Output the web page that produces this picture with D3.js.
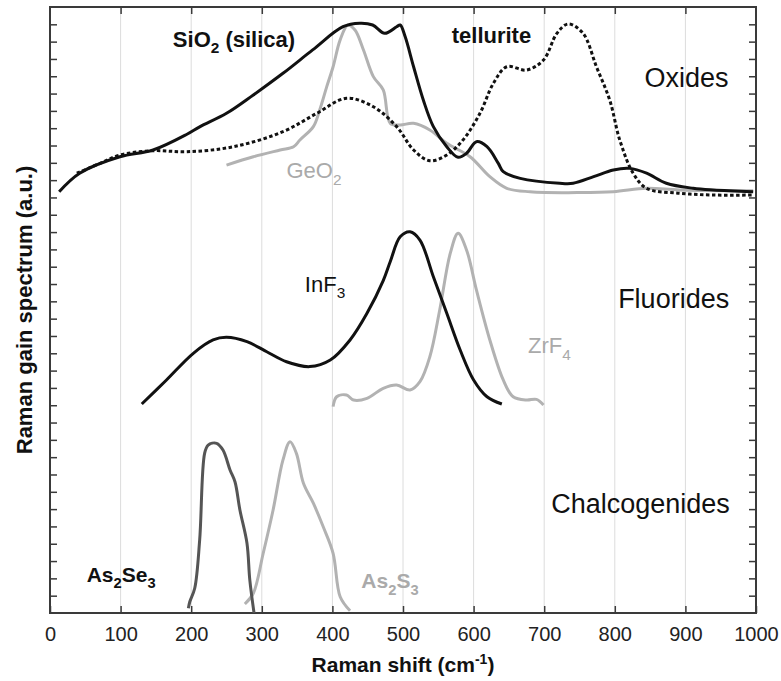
<!DOCTYPE html>
<html>
<head>
<meta charset="utf-8">
<script src="https://cdn.jsdelivr.net/npm/d3@7"></script>
<style>
  html, body { margin: 0; padding: 0; background: #fff; }
  svg { display: block; font-family: "Liberation Sans", Arial, sans-serif; }
</style>
</head>
<body>
<div id="plot"></div>
<script>
// Spectra: [Raman shift (cm^-1), gain (a.u., stacked offset)]
const sio2 = [
  [13, 24.33], [42, 25.4], [99, 26.35], [146, 26.74], [194, 27.65], [212, 28.08],
  [250, 28.86], [288, 29.92], [330, 31.17], [372, 32.52], [415, 33.86], [439, 34.06],
  [457, 33.96], [474, 33.48], [491, 33.86], [496, 33.96], [503, 33.29], [515, 31.55],
  [529, 29.6], [543, 28.09], [562, 26.93], [578, 26.32], [590, 26.55], [604, 27.22],
  [619, 26.93], [635, 25.97], [642, 25.49], [666, 25.1], [722, 24.82], [741, 24.82],
  [770, 25.2], [798, 25.59], [821, 25.68], [845, 25.4], [873, 24.82], [911, 24.53],
  [940, 24.43], [996, 24.33]
];
const tellurite = [
  [38, 25.4], [71, 25.97], [99, 26.45], [146, 26.7], [194, 26.64], [260, 26.93],
  [330, 27.8], [378, 28.86], [420, 29.73], [458, 29.24], [491, 28.09], [515, 26.74],
  [538, 26.12], [562, 26.45], [585, 27.32], [609, 28.86], [628, 30.59], [647, 31.55],
  [675, 31.36], [699, 31.94], [718, 33.48], [734, 34.02], [755, 33.48], [774, 31.55],
  [793, 29.6], [807, 27.32], [826, 25.4], [845, 24.53], [892, 24.24], [940, 24.14],
  [996, 24.14]
];
const geo2 = [
  [250, 25.87], [288, 26.35], [326, 26.74], [345, 26.93], [354, 27.32], [373, 28.09],
  [382, 29.05], [392, 30.4], [401, 31.55], [411, 33.1], [422, 33.96], [432, 33.67],
  [444, 32.52], [458, 30.98], [472, 30.21], [482, 28.28], [496, 28.19], [515, 28.28],
  [538, 27.9], [562, 27.13], [595, 26.35], [623, 25.2], [647, 24.53], [680, 24.33],
  [751, 24.28], [798, 24.33], [845, 24.53], [892, 24.43], [996, 24.39]
];
const inf3 = [
  [130, 12.07], [165, 13.46], [203, 15.0], [231, 15.77], [250, 15.92], [279, 15.67],
  [307, 15.09], [335, 14.51], [368, 14.23], [397, 14.61], [425, 15.77], [449, 17.31],
  [472, 19.2], [482, 20.3], [496, 21.73], [510, 22.02], [524, 21.54], [543, 19.42],
  [562, 17.31], [581, 15.19], [600, 13.46], [619, 12.49], [640, 12.07]
];
const zrf4 = [
  [401, 11.92], [406, 12.49], [420, 12.59], [430, 12.3], [449, 12.4], [472, 12.98],
  [491, 13.17], [510, 12.88], [524, 13.36], [538, 14.8], [552, 17.5], [567, 20.78],
  [578, 21.93], [590, 20.97], [604, 18.66], [623, 15.77], [642, 13.46], [656, 12.49],
  [675, 12.3], [689, 12.34], [699, 12.01]
];
const as2se3 = [
  [196, 0.27], [198, 0.65], [205, 1.43], [212, 4.22], [219, 9.22], [224, 9.7],
  [236, 9.8], [245, 9.41], [255, 8.26], [262, 7.58], [269, 5.95], [279, 4.03],
  [283, 1.91], [289, 0]
];
const as2s3 = [
  [276, 0.52], [288, 1.14], [302, 3.45], [316, 5.95], [330, 8.84], [340, 9.89],
  [349, 9.22], [359, 7.49], [373, 6.34], [387, 4.98], [401, 3.45], [411, 0.94],
  [425, 0.13]
];

const xTicks = [0, 100, 200, 300, 400, 500, 600, 700, 800, 900, 1000];

// Annotations in data coordinates
const labels = [
  { x: 174, y: 32.71, parts: [["SiO"], ["2", 1], [" (silica)"]], bold: true, color: "#111", size: 22 },
  { x: 569, y: 32.9, parts: [["tellurite"]], bold: true, color: "#111", size: 22 },
  { x: 335, y: 25.12, parts: [["GeO"], ["2", 1]], color: "#aaa", size: 22 },
  { x: 361, y: 18.56, parts: [["InF"], ["3", 1]], color: "#111", size: 22 },
  { x: 677, y: 15.0, parts: [["ZrF"], ["4", 1]], color: "#aaa", size: 22 },
  { x: 52, y: 1.81, parts: [["As"], ["2", 1], ["Se"], ["3", 1]], bold: true, color: "#111", size: 21 },
  { x: 441, y: 1.43, parts: [["As"], ["2", 1], ["S"], ["3", 1]], bold: true, color: "#aaa", size: 21 },
  { x: 961, y: 30.4, parts: [["Oxides"]], color: "#111", size: 27, anchor: "end" },
  { x: 962, y: 17.6, parts: [["Fluorides"]], color: "#111", size: 27, anchor: "end" },
  { x: 963, y: 5.76, parts: [["Chalcogenides"]], color: "#111", size: 27, anchor: "end" }
];

const W = 781, H = 681;
const margin = { top: 7, right: 25, bottom: 68, left: 50 };

const svg = d3.select('#plot').append('svg')
  .attr('width', W)
  .attr('height', H);

const x = d3.scaleLinear().domain([0, 1000]).range([margin.left, W - margin.right]);
const y = d3.scaleLinear().domain([0, 35]).range([H - margin.bottom, margin.top]);

// vertical grid
svg.append('g')
  .selectAll('line')
  .data(xTicks.slice(1, -1))
  .join('line')
    .attr('x1', d => x(d)).attr('x2', d => x(d))
    .attr('y1', y(0)).attr('y2', y(35))
    .attr('stroke', '#dcdcdc')
    .attr('stroke-width', 1);

const frame = '#3a3a3a';
const yTickVals = d3.range(1, 35);

// axes: ticks point inward on all four sides
svg.append('g')
  .attr('transform', `translate(0,${y(0)})`)
  .call(d3.axisBottom(x).tickValues(xTicks).tickFormat(d3.format('d'))
    .tickSizeInner(-7).tickSizeOuter(0).tickPadding(14))
  .call(g => g.select('.domain').remove())
  .call(g => g.selectAll('line').attr('stroke', frame).attr('stroke-width', 1.5))
  .call(g => g.selectAll('text')
    .attr('font-size', 20)
    .attr('font-family', '"Liberation Sans", Arial, sans-serif')
    .attr('fill', '#222'));

svg.append('g')
  .attr('transform', `translate(0,${y(35)})`)
  .call(d3.axisTop(x).tickValues(xTicks.slice(1, -1)).tickSizeInner(-7).tickSizeOuter(0).tickFormat(''))
  .call(g => g.select('.domain').remove())
  .call(g => g.selectAll('line').attr('stroke', frame).attr('stroke-width', 1.5));

svg.append('g')
  .attr('transform', `translate(${x(0)},0)`)
  .call(d3.axisLeft(y).tickValues(yTickVals).tickSizeInner(-7).tickSizeOuter(0).tickFormat(''))
  .call(g => g.select('.domain').remove())
  .call(g => g.selectAll('line').attr('stroke', frame).attr('stroke-width', 1.5));

svg.append('g')
  .attr('transform', `translate(${x(1000)},0)`)
  .call(d3.axisRight(y).tickValues(yTickVals).tickSizeInner(-7).tickSizeOuter(0).tickFormat(''))
  .call(g => g.select('.domain').remove())
  .call(g => g.selectAll('line').attr('stroke', frame).attr('stroke-width', 1.5));

svg.append('rect')
  .attr('x', x(0)).attr('y', y(35))
  .attr('width', x(1000) - x(0)).attr('height', y(0) - y(35))
  .attr('fill', 'none')
  .attr('stroke', frame)
  .attr('stroke-width', 2);

// curves
const line = d3.line()
  .x(d => x(d[0]))
  .y(d => y(d[1]))
  .curve(d3.curveCatmullRom.alpha(0.5));

const series = [
  { data: geo2, color: '#b2b2b2' },
  { data: zrf4, color: '#b2b2b2' },
  { data: as2s3, color: '#b2b2b2' },
  { data: as2se3, color: '#555' },
  { data: inf3, color: '#111' },
  { data: sio2, color: '#111' },
  { data: tellurite, color: '#111', dash: '3.5 2.5' }
];

svg.append('g')
  .selectAll('path')
  .data(series)
  .join('path')
    .attr('d', d => line(d.data))
    .attr('fill', 'none')
    .attr('stroke', d => d.color)
    .attr('stroke-width', 3)
    .attr('stroke-linejoin', 'round')
    .attr('stroke-dasharray', d => d.dash || null);

// annotations with subscripts
labels.forEach(l => {
  const t = svg.append('text')
    .attr('x', x(l.x))
    .attr('y', y(l.y))
    .attr('fill', l.color)
    .attr('font-size', l.size)
    .attr('font-weight', l.bold ? 'bold' : 'normal')
    .attr('text-anchor', l.anchor || 'start');
  let shifted = false;
  l.parts.forEach(p => {
    const s = t.append('tspan').text(p[0]);
    if (p[1] && !shifted) { s.attr('dy', l.size * 0.3).attr('font-size', l.size * 0.7); shifted = true; }
    else if (p[1]) { s.attr('font-size', l.size * 0.7); }
    else if (shifted) { s.attr('dy', -l.size * 0.3); shifted = false; }
  });
});

// axis titles
const xt = svg.append('text')
  .attr('x', (x(0) + x(1000)) / 2)
  .attr('y', 672)
  .attr('text-anchor', 'middle')
  .attr('font-size', 21)
  .attr('font-weight', 'bold')
  .attr('fill', '#111');
xt.append('tspan').text('Raman shift (cm');
xt.append('tspan').text('-1').attr('font-size', 14).attr('dy', -8);
xt.append('tspan').text(')').attr('dy', 8);

svg.append('text')
  .attr('transform', `translate(32,${(y(0) + y(35)) / 2}) rotate(-90)`)
  .attr('text-anchor', 'middle')
  .attr('font-size', 22)
  .attr('font-weight', 'bold')
  .attr('fill', '#111')
  .text('Raman gain spectrum (a.u.)');
</script>
</body>
</html>
